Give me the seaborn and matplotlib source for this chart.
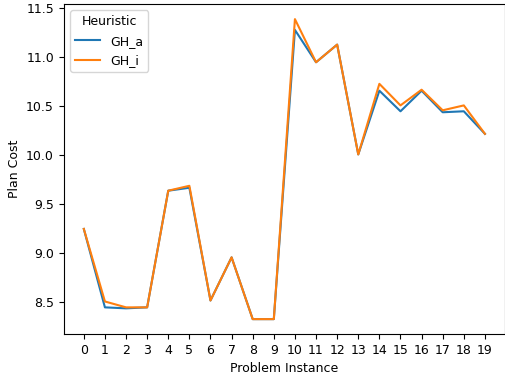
import pandas as pd
import matplotlib
matplotlib.use("Agg")
import matplotlib.pyplot as plt
import seaborn as sns

plt.rcParams["font.size"] = 9

instances = list(range(20))
gh_a = [9.25, 8.45, 8.44, 8.45, 9.64, 9.67, 8.52, 8.96, 8.33, 8.33,
        11.28, 10.95, 11.13, 10.01, 10.66, 10.45, 10.66, 10.44, 10.45, 10.22]
gh_i = [9.25, 8.51, 8.45, 8.45, 9.64, 9.69, 8.52, 8.96, 8.33, 8.33,
        11.39, 10.95, 11.13, 10.01, 10.73, 10.51, 10.67, 10.46, 10.51, 10.22]

df = pd.DataFrame({
    "Problem Instance": instances * 2,
    "Plan Cost": gh_a + gh_i,
    "Heuristic": ["GH_a"] * len(gh_a) + ["GH_i"] * len(gh_i),
})

fig, ax = plt.subplots(figsize=(5.06, 3.75), dpi=100)
sns.lineplot(data=df, x="Problem Instance", y="Plan Cost", hue="Heuristic", ax=ax)
ax.set_xticks(instances)
sns.move_legend(ax, "upper left")
fig.subplots_adjust(left=0.126, right=0.998, top=0.989, bottom=0.109)
fig.savefig("out.png")
